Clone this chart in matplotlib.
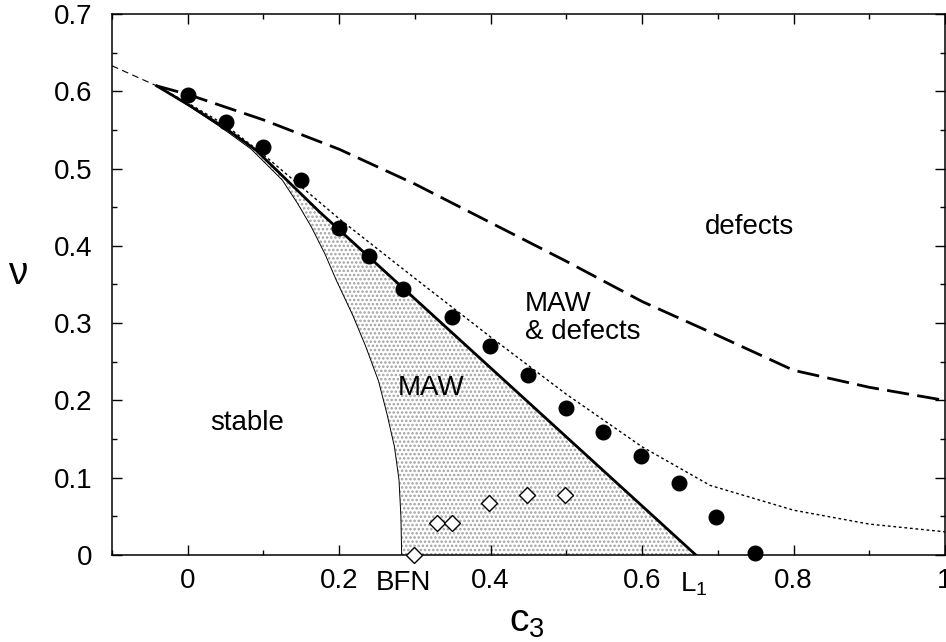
#!/usr/bin/env python3
"""
Phase diagram in the (c3, nu) plane: stable / MAW / MAW & defects / defects.

Usage:
    python plot.py
"""

import matplotlib
matplotlib.use("Agg")
import matplotlib.pyplot as plt
from matplotlib.ticker import MultipleLocator
from matplotlib.transforms import blended_transform_factory


# --- data --------------------------------------------------------------

# upper boundary (long dashes) and its thin continuation to the left
dash_c3 = [-0.041, 0.0, 0.1, 0.2, 0.3, 0.4, 0.5, 0.6, 0.7, 0.8, 0.9, 1.0]
dash_nu = [0.607, 0.596, 0.563, 0.525, 0.48, 0.43, 0.38, 0.328, 0.284, 0.239, 0.217, 0.2]
ext_c3 = [-0.1, -0.041]
ext_nu = [0.633, 0.607]

# dotted boundary
dot_c3 = [-0.041, 0.0, 0.05, 0.1, 0.2, 0.3, 0.4, 0.5, 0.6, 0.69, 0.8, 0.9, 1.0]
dot_nu = [0.607, 0.585, 0.556, 0.518, 0.435, 0.358, 0.282, 0.208, 0.14, 0.09, 0.058, 0.04, 0.03]

# thick solid boundary (ends at L1)
solid_c3 = [-0.041, 0.0, 0.05, 0.09, 0.174, 0.671]
solid_nu = [0.607, 0.583, 0.552, 0.524, 0.444, 0.0]

# thin solid boundary (ends at BFN)
thin_c3 = [-0.041, 0.0, 0.046, 0.084, 0.125, 0.145, 0.163, 0.181, 0.196, 0.218,
           0.235, 0.252, 0.263, 0.273, 0.279, 0.2815, 0.2825]
thin_nu = [0.607, 0.582, 0.552, 0.525, 0.485, 0.455, 0.425, 0.39, 0.356, 0.31,
           0.27, 0.225, 0.183, 0.14, 0.097, 0.05, 0.0]

# filled circles
circ_c3 = [0.0, 0.05, 0.1, 0.15, 0.2, 0.24, 0.284, 0.349, 0.399, 0.449, 0.499, 0.549, 0.599, 0.649, 0.697, 0.749]
circ_nu = [0.595, 0.56, 0.528, 0.485, 0.423, 0.387, 0.344, 0.308, 0.27, 0.233, 0.19, 0.159, 0.128, 0.093, 0.049, 0.003]

# open diamonds
diam_c3 = [0.299, 0.329, 0.349, 0.398, 0.448, 0.498]
diam_nu = [0.0, 0.042, 0.042, 0.067, 0.078, 0.078]

# axis ticks
xtick_vals = [0, 0.2, 0.4, 0.6, 0.8, 1]
xtick_text = ["0", "0.2", "0.4", "0.6", "0.8", "1"]
ytick_vals = [0, 0.1, 0.2, 0.3, 0.4, 0.5, 0.6, 0.7]
ytick_text = ["0", "0.1", "0.2", "0.3", "0.4", "0.5", "0.6", "0.7"]

# special points marked under the axis
mark_c3 = [0.285, 0.668]
mark_text = ["BFN", "L$_1$"]

# region names
region_text = ["stable", "MAW", "MAW\n& defects", "defects"]
region_c3 = [0.078, 0.321, 0.445, 0.742]
region_nu = [0.171, 0.216, 0.307, 0.424]
region_ha = ["center", "center", "left", "center"]


FONT = "Liberation Sans"
TICK_SIZE = 20


def main():
    plt.rcParams["font.family"] = [FONT, "DejaVu Sans"]
    plt.rcParams["mathtext.fontset"] = "custom"
    plt.rcParams["mathtext.rm"] = FONT
    plt.rcParams["mathtext.it"] = FONT + ":italic"
    plt.rcParams["hatch.linewidth"] = 1.2

    fig = plt.figure(figsize=(9.46, 6.42), dpi=100)
    ax = fig.add_axes([112 / 946, 87 / 642, 833 / 946, 541 / 642])

    # MAW region: between thin boundary and thick solid line
    poly_c3 = thin_c3 + solid_c3[::-1]
    poly_nu = thin_nu + solid_nu[::-1]
    ax.fill(poly_c3, poly_nu, facecolor="white", edgecolor="#a0a0a0",
            hatch="....", linewidth=0, zorder=1)

    ax.plot(thin_c3, thin_nu, color="black", linewidth=0.7, zorder=2)
    ax.plot(solid_c3, solid_nu, color="black", linewidth=2.0, zorder=3)
    ax.plot(dot_c3, dot_nu, color="black", linewidth=1.0, dashes=(2, 2), zorder=3)
    ax.plot(dash_c3, dash_nu, color="black", linewidth=2.0, dashes=(8, 3), zorder=3)
    ax.plot(ext_c3, ext_nu, color="black", linewidth=0.8, dashes=(6, 4), zorder=3)

    ax.plot(circ_c3, circ_nu, "o", color="black", markersize=10.5, zorder=4,
            clip_on=False)
    ax.plot(diam_c3, diam_nu, "D", markerfacecolor="white", markeredgecolor="black",
            markersize=8.5, markeredgewidth=1.0, zorder=4, clip_on=False)

    for txt, x, y, ha in zip(region_text, region_c3, region_nu, region_ha):
        ax.text(x, y, txt, fontsize=20, ha=ha, va="center", linespacing=1.1)

    ax.set_xlim(-0.1, 1.0)
    ax.set_ylim(0, 0.7)
    ax.set_xticks(xtick_vals)
    ax.set_xticklabels(xtick_text)
    ax.set_yticks(ytick_vals)
    ax.set_yticklabels(ytick_text)
    ax.xaxis.set_minor_locator(MultipleLocator(0.1))
    ax.yaxis.set_minor_locator(MultipleLocator(0.05))
    ax.tick_params(which="both", direction="in", top=True, right=True,
                   width=1.0, labelsize=TICK_SIZE)
    ax.tick_params(which="major", length=7)
    ax.tick_params(which="minor", length=3.6)
    ax.tick_params(axis="x", pad=9)
    ax.tick_params(axis="y", pad=14)
    for spine in ax.spines.values():
        spine.set_linewidth(1.1)

    # BFN and L1 sit on the tick-label row
    trans = blended_transform_factory(ax.transData, ax.transAxes)
    for x, txt in zip(mark_c3, mark_text):
        ax.text(x, -0.028, txt, transform=trans,
                fontsize=TICK_SIZE, ha="center", va="top")

    fig.text(18 / 946, 1 - 274 / 642, "ν", fontsize=28, ha="center", va="center")
    fig.text(527 / 946, 1 - 622 / 642, "c$_3$", fontsize=28, ha="center", va="center")

    fig.savefig("out.png", dpi=100, facecolor="white")
    plt.close(fig)


if __name__ == "__main__":
    main()
